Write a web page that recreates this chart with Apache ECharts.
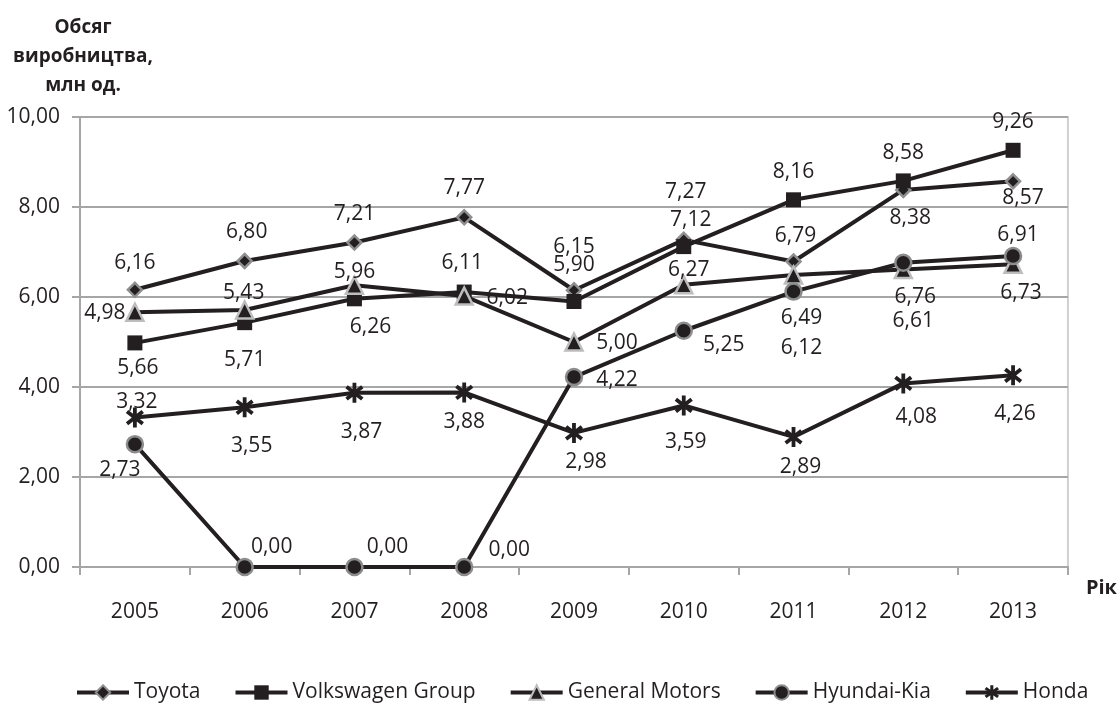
<!DOCTYPE html>
<html>
<head>
<meta charset="utf-8">
<script src="https://cdn.jsdelivr.net/npm/echarts@6/dist/echarts.min.js"></script>
<style>
html,body{margin:0;padding:0;background:#fff;}
#chart{width:1120px;height:704px;}
</style>
</head>
<body>
<div id="chart"></div>
<script>
// ---- data ----
const years = ['2005','2006','2007','2008','2009','2010','2011','2012','2013'];
const toyota = [6.16, 6.80, 7.21, 7.77, 6.15, 7.27, 6.79, 8.38, 8.57];
const volkswagen = [4.98, 5.43, 5.96, 6.11, 5.90, 7.12, 8.16, 8.58, 9.26];
const generalMotors = [5.66, 5.71, 6.26, 6.02, 5.00, 6.27, 6.49, 6.61, 6.73];
const hyundaiKia = [2.73, 0.00, 0.00, 0.00, 4.22, 5.25, 6.12, 6.76, 6.91];
const honda = [3.32, 3.55, 3.87, 3.88, 2.98, 3.59, 2.89, 4.08, 4.26];
const seriesNames = ['Toyota', 'Volkswagen Group', 'General Motors', 'Hyundai-Kia', 'Honda'];
const yAxisTitle = 'Обсяг\nвиробництва,\nмлн од.';
const xAxisTitle = 'Рік';

// ---- label placement (style, offsets from point in px) ----
const labelOffsets = {
  toyota: [[0,-27],[2,-29],[0,-29],[0,-29],[0,-43],[2,-48],[2,-25],[7,28],[10,17]],
  volkswagen: [[-30,-30],[-1,-30],[0,-27],[-2,-29],[0,-36],[7,-27],[0,-28],[0,-28],[0,-28]],
  generalMotors: [[3,56],[0,50],[16,42],[43,2],[43,1],[5,-15],[8,43],[10,51],[8,29]],
  hyundaiKia: [[-15,26],[27,-20],[33,-20],[45,-17],[43,3],[40,14],[8,56],[12,34],[5,-21]],
  honda: [[2,-16],[7,39],[7,39],[0,30],[12,29],[2,37],[7,30],[13,34],[2,39]]
};

const INK = '#231f20';
const FONT = '"Open Sans", "Noto Sans", sans-serif';
const fmt = v => Number(v).toFixed(2).replace('.', ',');

// asterisk marker path
function asteriskPath() {
  const L = 10, t = 1.9;
  const angles = [90, 38, -38];
  let d = '';
  angles.forEach(a => {
    const r = a * Math.PI / 180;
    const ux = Math.cos(r), uy = Math.sin(r);
    const px = -uy, py = ux;
    const pts = [
      [ L*ux + t*px,  L*uy + t*py],
      [ L*ux - t*px,  L*uy - t*py],
      [-L*ux - t*px, -L*uy - t*py],
      [-L*ux + t*px, -L*uy + t*py]
    ];
    d += 'M' + pts.map(p => p[0].toFixed(2) + ' ' + p[1].toFixed(2)).join(' L') + ' Z ';
  });
  return 'path://' + d;
}

function build(values, offsets) {
  return values.map((v, i) => ({
    value: v,
    label: { offset: offsets[i] }
  }));
}

const labelBase = {
  show: true,
  position: 'inside',
  align: 'center',
  verticalAlign: 'middle',
  color: INK,
  fontSize: 21,
  fontFamily: FONT,
  formatter: p => fmt(p.value)
};

function mkSeries(name, values, offsets, symbol, size, itemStyle, extra) {
  return Object.assign({
    name: name,
    type: 'line',
    data: build(values, offsets),
    symbol: symbol,
    symbolSize: size,
    showAllSymbol: true,
    lineStyle: { color: INK, width: 4 },
    itemStyle: itemStyle,
    label: labelBase,
    emphasis: { disabled: true },
    animation: false
  }, extra || {});
}

const chart = echarts.init(document.getElementById('chart'), null, { renderer: 'canvas' });

const option = {
  backgroundColor: '#ffffff',
  animation: false,
  textStyle: { fontFamily: FONT, color: INK },
  grid: {
    left: 80, right: 50, top: 117, bottom: 137,
    show: true, borderColor: '#d0d0d0', borderWidth: 2, backgroundColor: 'transparent'
  },
  legend: {
    left: 75, top: 682,
    padding: 0,
    itemWidth: 52, itemHeight: 18, itemGap: 33,
    lineStyle: { width: 4, color: INK },
    textStyle: { fontSize: 21, fontFamily: FONT, color: INK },
    data: seriesNames
  },
  xAxis: {
    type: 'category',
    data: years,
    boundaryGap: true,
    name: xAxisTitle,
    nameLocation: 'end',
    nameGap: 18,
    nameTextStyle: { fontSize: 20, fontWeight: 'bold', fontFamily: FONT, color: INK, align: 'left', verticalAlign: 'top', padding: [11, 0, 0, 0] },
    axisLine: { show: true, lineStyle: { color: '#a6a6a6', width: 2 } },
    axisTick: { show: true, length: 8, alignWithLabel: false, lineStyle: { color: '#a6a6a6', width: 2 } },
    axisLabel: { fontSize: 21, fontFamily: FONT, color: INK, margin: 35, lineHeight: 21 },
    splitLine: { show: false }
  },
  yAxis: {
    type: 'value',
    min: 0, max: 10, interval: 2,
    name: yAxisTitle,
    nameLocation: 'end',
    nameGap: 17,
    nameTextStyle: { fontSize: 19, fontWeight: 'bold', fontFamily: FONT, color: INK, align: 'center', verticalAlign: 'bottom', lineHeight: 29, padding: [0, 0, 0, 6] },
    axisLine: { show: true, lineStyle: { color: '#a6a6a6', width: 2 } },
    axisTick: { show: true, length: 8, lineStyle: { color: '#a6a6a6', width: 2 } },
    axisLabel: { fontSize: 21, fontFamily: FONT, color: INK, margin: 20, formatter: v => fmt(v) },
    splitLine: { show: true, lineStyle: { color: '#a6a6a6', width: 2 } }
  },
  series: [
    mkSeries(seriesNames[0], toyota, labelOffsets.toyota, 'diamond', 14,
      { color: INK, borderColor: '#8f8f8f', borderWidth: 2.5 }),
    mkSeries(seriesNames[1], volkswagen, labelOffsets.volkswagen, 'rect', 15,
      { color: INK, borderColor: INK, borderWidth: 0 }),
    mkSeries(seriesNames[2], generalMotors, labelOffsets.generalMotors, 'triangle', 17,
      { color: INK, borderColor: '#bdbdbd', borderWidth: 2.5 }),
    mkSeries(seriesNames[3], hyundaiKia, labelOffsets.hyundaiKia, 'circle', 16,
      { color: INK, borderColor: '#8c8c8c', borderWidth: 2.5 }),
    mkSeries(seriesNames[4], honda, labelOffsets.honda, asteriskPath(), 20,
      { color: INK, borderWidth: 0 }, { symbolKeepAspect: true })
  ]
};

chart.setOption(option);
</script>
</body>
</html>
